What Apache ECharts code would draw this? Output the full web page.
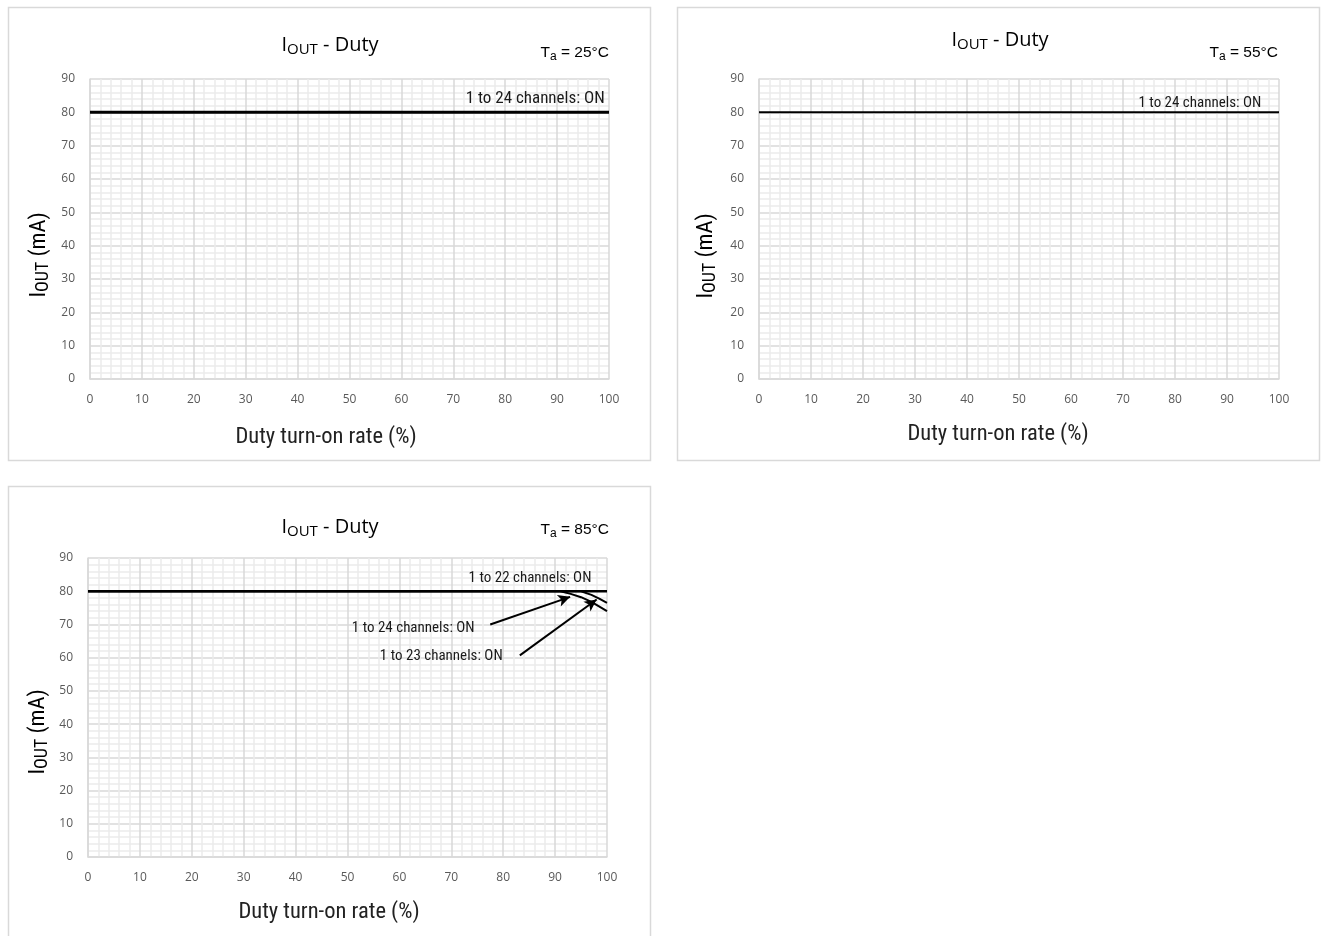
<!DOCTYPE html>
<html><head><meta charset="utf-8">
<script src="https://cdn.jsdelivr.net/npm/echarts@6/dist/echarts.min.js"></script>
<style>html,body{margin:0;padding:0;background:#fff}#c{width:1323px;height:936px}</style>
</head><body><div id="c"></div>
<script>
// ---- data ----
const xTicks = [0,10,20,30,40,50,60,70,80,90,100];
const yTicks = [0,10,20,30,40,50,60,70,80,90];
const temps = ['25', '55', '85'];
// panel 25°C and 55°C : 1 to 24 channels ON
const duty25 = [0, 100];
const iout25 = [80, 80];
const duty55 = [0, 100];
const iout55 = [80, 80];
// panel 85°C
const duty85_22 = [0, 100];
const iout85_22 = [80, 80];
const duty85_24 = [0, 91, 93, 95, 97, 100];
const iout85_24 = [80, 80, 79.2, 78.2, 76.8, 74];
const duty85_23 = [0, 95, 97, 98.5, 100];
const iout85_23 = [80, 80, 78.9, 77.8, 76.5];
const labels = ['1 to 24 channels: ON', '1 to 22 channels: ON', '1 to 23 channels: ON'];

const NARROW = "'Liberation Sans Narrow','Arial Narrow','Roboto Condensed',sans-serif";
const TICKF = "'Open Sans','Noto Sans',sans-serif";
const pair = (xs, ys) => xs.map((x, i) => [x, ys[i]]);

const grids = [
  {left: 90, top: 79, width: 519, height: 300},
  {left: 759, top: 79, width: 520, height: 300},
  {left: 88, top: 558, width: 519, height: 299}
];

function xAx(i) {
  return {gridIndex: i, type: 'value', min: 0, max: 100, interval: 10,
    axisLine: {show: true, lineStyle: {color: '#d9d9d9', width: 1.5}},
    axisTick: {show: false},
    axisLabel: {color: '#595959', fontSize: 12, fontFamily: TICKF, margin: 15, formatter: v => String(v)},
    splitLine: {show: true, lineStyle: {color: '#d9d9d9', width: 1.5}},
    minorTick: {show: false, splitNumber: 5},
    minorSplitLine: {show: true, lineStyle: {color: '#ebebeb', width: 1.5}}};
}
function yAx(i) {
  return {gridIndex: i, type: 'value', min: 0, max: 90, interval: 10,
    axisLine: {show: true, lineStyle: {color: '#d9d9d9', width: 1.5}},
    axisTick: {show: false},
    axisLabel: {color: '#595959', fontSize: 12, fontFamily: TICKF, margin: 15},
    splitLine: {show: true, lineStyle: {color: '#d9d9d9', width: 1.5}},
    minorTick: {show: false, splitNumber: 5},
    minorSplitLine: {show: true, lineStyle: {color: '#ebebeb', width: 1.5}}};
}

function lineS(i, data, w, extra) {
  return Object.assign({type: 'line', xAxisIndex: i, yAxisIndex: i, data: data,
    showSymbol: false, symbol: 'none', silent: true, animation: false, smooth: false,
    lineStyle: {color: '#000', width: w}}, extra || {});
}
function lbl(coord, text, size) {
  return {coord: coord, symbol: 'circle', symbolSize: 0, value: text,
    label: {show: true, position: 'left', distance: 0, formatter: text, color: '#1a1a1a',
      fontSize: size, fontFamily: NARROW}};
}
const arrowStyle = {color: '#000', width: 2, type: 'solid'};

const series = [
  lineS(0, pair(duty25, iout25), 3, {markPoint: {silent: true, data: [lbl([99.2, 84.0], labels[0], 17)]}}),
  lineS(1, pair(duty55, iout55), 2, {markPoint: {silent: true, data: [lbl([96.6, 82.8], labels[0], 15)]}}),
  lineS(2, pair(duty85_22, iout85_22), 2.5, {markPoint: {silent: true, data: [
    lbl([97.0, 83.9], labels[1], 15),
    lbl([74.5, 69.0], labels[0], 15),
    lbl([79.9, 60.4], labels[2], 15)]}}),
  lineS(2, pair(duty85_24, iout85_24), 2, {markLine: {silent: true, animation: false,
    symbol: ['none', 'arrow'], symbolSize: [9, 12], lineStyle: arrowStyle, label: {show: false},
    data: [[{coord: [77.5, 70.0]}, {coord: [92.9, 78.3]}]]}}),
  lineS(2, pair(duty85_23, iout85_23), 2, {markLine: {silent: true, animation: false,
    symbol: ['none', 'arrow'], symbolSize: [9, 12], lineStyle: arrowStyle, label: {show: false},
    data: [[{coord: [83.2, 60.7]}, {coord: [98.0, 77.5]}]]}})
];

const richT = {
  b: {fontSize: 20, fontFamily: TICKF, color: '#404040'},
  s: {fontSize: 15, fontFamily: TICKF, color: '#404040', verticalAlign: 'bottom', padding: [10, 0, 0, 0]}
};
const richTa = {
  b: {fontSize: 15.5, fontFamily: "'Liberation Sans',Arial,sans-serif", color: '#111'},
  s: {fontSize: 12, fontFamily: "'Liberation Sans',Arial,sans-serif", color: '#111', padding: [7, 0, 0, 0]}
};
const richY = {
  b: {fontSize: 22.5, fontFamily: NARROW, color: '#222'},
  s: {fontSize: 18, fontFamily: NARROW, color: '#222', padding: [9, 0, 0, 0]}
};

const panels = [
  {box: [8, 7, 642, 453], title: [330, 45], ta: [609, 53], yname: [39, 255], xname: [326, 437]},
  {box: [677, 7, 642, 453], title: [1000, 40], ta: [1278, 53], yname: [706, 256], xname: [998, 434]},
  {box: [8, 486, 642, 460], title: [330, 527], ta: [609, 530], yname: [38, 732], xname: [329, 912]}
];

const graphic = [];
panels.forEach((p, i) => {
  graphic.push({type: 'rect', shape: {x: p.box[0] + 0.5, y: p.box[1] + 0.5, width: p.box[2], height: p.box[3]},
    style: {fill: 'none', stroke: '#d9d9d9', lineWidth: 1.5}, silent: true, z: 0});
  graphic.push({type: 'text', x: p.title[0], y: p.title[1], silent: true,
    style: {text: '{b|I}{s|OUT}{b| - Duty}', rich: richT, align: 'center', verticalAlign: 'middle'}});
  graphic.push({type: 'text', x: p.ta[0], y: p.ta[1], silent: true,
    style: {text: '{b|T}{s|a}{b| = ' + temps[i] + '°C}', rich: richTa, align: 'right', verticalAlign: 'middle'}});
  graphic.push({type: 'text', x: p.yname[0], y: p.yname[1], rotation: Math.PI / 2, silent: true,
    style: {text: '{b|I}{s|OUT}{b| (mA)}', rich: richY, align: 'center', verticalAlign: 'middle'}});
  graphic.push({type: 'text', x: p.xname[0], y: p.xname[1], silent: true,
    style: {text: 'Duty turn-on rate (%)', font: '22.5px ' + NARROW, fill: '#222', align: 'center', verticalAlign: 'middle'}});
});

const chart = echarts.init(document.getElementById('c'), null, {renderer: 'canvas'});
chart.setOption({
  animation: false,
  grid: grids,
  xAxis: [xAx(0), xAx(1), xAx(2)],
  yAxis: [yAx(0), yAx(1), yAx(2)],
  series: series,
  graphic: graphic
});
</script></body></html>
